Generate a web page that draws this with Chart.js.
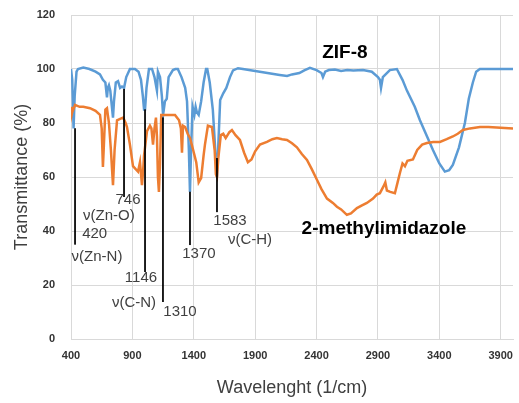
<!DOCTYPE html>
<html>
<head>
<meta charset="utf-8">
<script src="https://cdn.jsdelivr.net/npm/chart.js@4.4.0/dist/chart.umd.min.js"></script>
<style>
  body { margin: 0; background: #fff; }
</style>
</head>
<body>
<canvas id="ftirChart" width="519" height="403"></canvas>
<script>
// Eixos
const xTicks = [400, 900, 1400, 1900, 2400, 2900, 3400, 3900];
const yTicks = [0, 20, 40, 60, 80, 100, 120];

// ZIF-8 (azul)
const zifX = [400, 410, 421, 430, 445, 457, 500, 550, 600, 636, 660, 680, 693, 700, 709, 720, 742, 750, 765, 783,
    800, 815, 832, 850, 880, 897, 921, 950, 970, 985, 995, 1003, 1015, 1035, 1050, 1060, 1080, 1100, 1108, 1125,
    1140, 1150, 1165, 1180, 1195, 1230, 1250, 1270, 1300, 1330, 1345, 1360, 1369, 1378, 1390, 1405, 1415, 1425, 1440, 1460,
    1480, 1500, 1510, 1530, 1555, 1575, 1589, 1600, 1615, 1640, 1665, 1695, 1720, 1760, 1800, 1900, 2000, 2100, 2160, 2200,
    2260, 2300, 2346, 2400, 2440, 2452, 2470, 2500, 2550, 2600, 2650, 2700, 2778, 2850, 2900, 2916, 2925, 2940, 2997, 3054,
    3100, 3136, 3200, 3242, 3300, 3348, 3400, 3445, 3480, 3510, 3560, 3608, 3640, 3673, 3700, 3730, 3800, 3900, 4000];
const zifY = [100, 96, 78, 90, 99, 100, 100.5, 100, 99, 98, 96, 95, 89.5, 93, 94, 92, 82, 88, 95, 95.5,
    93, 93.5, 93, 97, 100, 100, 100, 99, 96, 90, 85, 85, 93, 100, 100, 100, 97, 92, 99, 97,
    90, 83, 88, 89, 97, 99.6, 100, 100, 97, 93, 88, 70, 54.5, 70, 86, 83, 86, 84, 83, 88,
    95, 100, 100, 95, 85, 70, 60, 72, 88.5, 91, 93, 97, 99.5, 100.3, 100, 99.3, 98.5, 97.8, 97.4, 98,
    98.5, 99.5, 100.4, 99.6, 98.5, 97, 99, 99.6, 99.8, 99.3, 99.6, 99.4, 99.6, 99, 97, 96, 93, 97, 99.6, 100,
    96, 92, 86, 81, 75, 70, 65, 62, 62.5, 64.5, 71, 80, 89, 95, 99, 100, 100, 100, 100];

// 2-metilimidazol (laranja)
const hmimX = [400, 405, 410, 433, 470, 500, 555, 600, 636, 650, 660, 668, 680, 693, 700, 709, 725, 742, 755, 775,
    800, 825, 845, 856, 880, 905, 925, 946, 962, 978, 987, 995, 1019, 1043, 1055, 1068, 1080, 1092, 1100, 1108,
    1116, 1125, 1135, 1150, 1182, 1230, 1247, 1280, 1295, 1304, 1312, 1330, 1350, 1370, 1395, 1420, 1440, 1460, 1480, 1491,
    1515, 1548, 1570, 1580, 1589, 1600, 1620, 1640, 1660, 1690, 1711, 1740, 1776, 1810, 1841, 1870, 1900, 1939, 1996, 2040,
    2077, 2120, 2159, 2200, 2240, 2280, 2322, 2360, 2403, 2440, 2485, 2533, 2566, 2600, 2647, 2680, 2729, 2770, 2810, 2860,
    2890, 2916, 2945, 2960, 2973, 3000, 3038, 3060, 3079, 3100, 3120, 3140, 3185, 3220, 3260, 3299, 3350, 3405, 3460, 3510,
    3550, 3592, 3650, 3730, 3800, 3900, 4000];
const hmimY = [86, 83, 84, 86.7, 86, 86, 85.5, 84.5, 83, 78, 63.7, 72, 85, 85.5, 83, 80, 70, 57, 70, 81,
    81.5, 82, 80, 78.5, 72, 64, 63, 62, 65.5, 57, 62, 68, 77, 79, 78, 72, 78, 82, 75, 60,
    54.5, 65, 83, 83, 83, 83, 83, 81, 78, 69, 79, 78.5, 76, 74.4, 70, 65.5, 58, 59.6, 68, 72,
    79, 78.5, 70, 61, 60, 67, 75.5, 76, 74.4, 76.6, 77.4, 75.5, 73.7, 69, 65.5, 66.5, 69.5, 72, 73, 74,
    74.4, 74, 73.7, 72.5, 71, 68.5, 66.3, 63, 59, 55.5, 52, 50.4, 49, 48, 46, 46.5, 48.5, 49.5, 50.4, 52,
    53.5, 54, 56.5, 58, 55, 54.5, 54, 58, 61.5, 65, 64, 66, 66.5, 70, 72, 72.6, 73, 73, 74, 75,
    76, 77.4, 78, 78.5, 78.5, 78.2, 78];

// Linhas de atribuição das bandas
const bandX = [433, 832, 1003, 1149, 1369, 1589];
const bandTop = [78, 92.6, 85, 82, 54.5, 67];
const bandBottom = [35, 52.6, 24.8, 13.7, 34.8, 47];

// Rótulos
const noteText = ['420', 'ν(Zn-N)', '746', 'ν(Zn-O)', '1146', 'ν(C-N)', '1310', '1370', '1583', 'ν(C-H)'];
const noteX = [593, 612, 864, 709, 970, 913, 1288, 1442, 1695, 1858];
const noteY = [38.9, 30.4, 51.5, 45.6, 22.6, 13.3, 10, 31.5, 43.7, 36.7];
const seriesNames = ['ZIF-8', '2-methylimidazole'];
const seriesNoteX = [2631, 2949];
const seriesNoteY = [106, 41];

function pares(xs, ys) {
    return xs.map((x, i) => ({ x: x, y: ys[i] }));
}

const datasets = [];
bandX.forEach((x, i) => {
    datasets.push({
        data: [{ x: x, y: bandTop[i] }, { x: x, y: bandBottom[i] }],
        borderColor: '#000',
        borderWidth: 1
    });
});
datasets.push({ label: seriesNames[1], data: pares(hmimX, hmimY), borderColor: '#ED7D31', borderWidth: 2.5 });
datasets.push({ label: seriesNames[0], data: pares(zifX, zifY), borderColor: '#5B9BD5', borderWidth: 2.5 });

// Plugin para desenhar os textos
const textosPlugin = {
    id: 'textos',
    afterDatasetsDraw(chart) {
        const ctx = chart.ctx;
        const xs = chart.scales.x;
        const ys = chart.scales.y;
        ctx.save();
        ctx.textAlign = 'center';
        ctx.textBaseline = 'middle';
        ctx.fillStyle = '#404040';
        ctx.font = '15px "Liberation Sans", Arial, sans-serif';
        noteText.forEach((t, i) => {
            ctx.fillText(t, xs.getPixelForValue(noteX[i]), ys.getPixelForValue(noteY[i]));
        });
        ctx.fillStyle = '#000';
        ctx.font = 'bold 19px "Liberation Sans", Arial, sans-serif';
        seriesNames.forEach((t, i) => {
            ctx.fillText(t, xs.getPixelForValue(seriesNoteX[i]), ys.getPixelForValue(seriesNoteY[i]));
        });
        ctx.restore();
    }
};

const fonteTicks = { family: '"Liberation Sans", Arial', size: 11, weight: 'bold' };

new Chart(document.getElementById('ftirChart'), {
    type: 'line',
    data: { datasets: datasets },
    options: {
        responsive: false,
        animation: false,
        layout: { padding: { top: 15, right: 6, left: 0, bottom: 0 } },
        elements: { point: { radius: 0 }, line: { tension: 0 } },
        plugins: { legend: { display: false }, tooltip: { enabled: false } },
        scales: {
            x: {
                type: 'linear',
                min: 400,
                max: 4000,
                afterBuildTicks: (scale) => { scale.ticks = xTicks.map(v => ({ value: v })); },
                afterFit: (scale) => {
                    scale.height = 64;
                    scale.paddingLeft = 0;
                    scale.paddingRight = 0;
                },
                grid: { color: '#d9d9d9', drawTicks: false },
                border: { color: '#d9d9d9' },
                ticks: {
                    padding: 10,
                    color: '#333',
                    font: fonteTicks,
                    callback: (v) => String(v)
                },
                title: {
                    display: true,
                    text: 'Wavelenght (1/cm)',
                    color: '#404040',
                    font: { family: '"Liberation Sans", Arial', size: 18 },
                    padding: { top: 0, bottom: 4 }
                }
            },
            y: {
                min: 0,
                max: 120,
                afterBuildTicks: (scale) => { scale.ticks = yTicks.map(v => ({ value: v })); },
                afterFit: (scale) => {
                    scale.width = 71;
                    scale.paddingTop = 0;
                    scale.paddingBottom = 0;
                },
                grid: { color: '#d9d9d9', drawTicks: false },
                border: { color: '#d9d9d9' },
                ticks: {
                    padding: 16,
                    color: '#333',
                    font: fonteTicks,
                    callback: (v) => String(v)
                },
                title: {
                    display: true,
                    text: 'Transmittance (%)',
                    color: '#404040',
                    font: { family: '"Liberation Sans", Arial', size: 18 },
                    padding: { top: 11, bottom: 0 }
                }
            }
        }
    },
    plugins: [textosPlugin]
});
</script>
</body>
</html>
